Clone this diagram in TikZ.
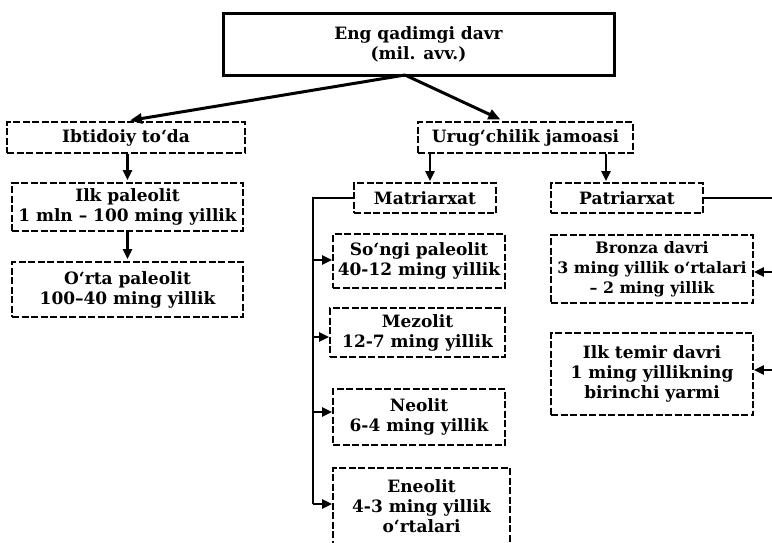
\documentclass[tikz,border=0pt]{standalone}
\usepackage{fontspec}
\setmainfont{DejaVu Serif}
\usetikzlibrary{arrows.meta,calc}
\tikzset{
  boxbase/.style={draw, align=center, inner sep=0pt, font=\fontsize{17}{20}\selectfont\bfseries},
  dbox/.style={boxbase, dash pattern=on 7pt off 2.5pt, line width=1.8pt},
  topbox/.style={boxbase, line width=3pt},
  arr/.style={line width=2.4pt, -{Triangle[length=10pt,width=9pt]}},
  bigarr/.style={line width=3pt, -{Triangle[length=12pt,width=10pt]}},
  bus/.style={line width=2.4pt}
}
\begin{document}
\begin{tikzpicture}[x=1pt,y=-1pt]
\useasboundingbox (0,0) rectangle (772,542);
% boxes
\node[topbox, minimum width=391pt, minimum height=62pt] (top) at (418.5,44) {Eng qadimgi davr\\(mil. avv.)};
\node[dbox, minimum width=238pt, minimum height=31pt] (ibt) at (126,137.5) {Ibtidoiy to‘da};
\node[dbox, minimum width=215pt, minimum height=31pt] (urug) at (525.5,137.5) {Urug‘chilik jamoasi};
\node[dbox, minimum width=231pt, minimum height=48pt] (ilk) at (127.5,207) {Ilk paleolit\\1 mln – 100 ming yillik};
\node[dbox, minimum width=231pt, minimum height=55pt] (orta) at (127.5,289.5) {O‘rta paleolit\\100–40 ming yillik};
\node[dbox, minimum width=142pt, minimum height=30pt] (matr) at (425,198) {Matriarxat};
\node[dbox, minimum width=152pt, minimum height=30pt] (patr) at (627,198) {Patriarxat};
\node[dbox, minimum width=172pt, minimum height=54pt] (songi) at (419,261) {So‘ngi paleolit\\40-12 ming yillik};
\node[dbox, minimum width=175pt, minimum height=49pt] (mezo) at (417.5,332.5) {Mezolit\\12-7 ming yillik};
\node[dbox, minimum width=172pt, minimum height=56pt] (neo) at (419,417) {Neolit\\6-4 ming yillik};
\node[dbox, minimum width=177pt, minimum height=77pt] (eneo) at (421.5,506.5) {Eneolit\\4-3 ming yillik\\o‘rtalari};
\node[dbox, minimum width=202pt, minimum height=68pt, font=\fontsize{15.8}{20}\selectfont\bfseries] (bronza) at (652,269) {Bronza davri\\3 ming yillik o‘rtalari\\– 2 ming yillik};
\node[dbox, minimum width=202pt, minimum height=82pt] (temir) at (652,374) {Ilk temir davri\\1 ming yillikning\\birinchi yarmi};
% top arrows
\coordinate (j) at (405,75);
\draw[bigarr, shorten >=4pt] (j) -- (ibt.north);
\draw[bigarr, shorten >=4pt] (j) -- ([xshift=-21.5pt]urug.north);
% down arrows
\draw[arr, shorten >=2pt] (ilk.north |- ibt.south) -- (ilk.north);
\draw[arr, shorten >=2pt] (ilk.south) -- (orta.north);
\draw[arr, shorten >=1pt] ([xshift=-95.5pt]urug.south) -- ([xshift=-95.5pt]urug.south |- matr.north);
\draw[arr, shorten >=1pt] ([xshift=80.5pt]urug.south) -- ([xshift=80.5pt]urug.south |- patr.north);
% left bus
\coordinate (lb) at (313,198);
\coordinate (lbe) at (313,504);
\draw[bus] (matr.west) -- (lb) -- (lbe);
\draw[arr] (lb |- 0,260) -- (songi.west |- 0,260);
\draw[arr] (lb |- 0,337) -- (mezo.west |- 0,337);
\draw[arr] (lb |- 0,412) -- (neo.west |- 0,412);
\draw[arr] (lbe) -- (lbe -| eneo.west);
% right bus
\coordinate (rb) at (785,198);
\coordinate (rbe) at (785,370);
\draw[bus] (patr.east) -- (rb) -- (rbe);
\draw[arr] (rb |- 0,272) -- (bronza.east |- 0,272);
\draw[arr] (rbe) -- (rbe -| temir.east);
\end{tikzpicture}
\end{document}
